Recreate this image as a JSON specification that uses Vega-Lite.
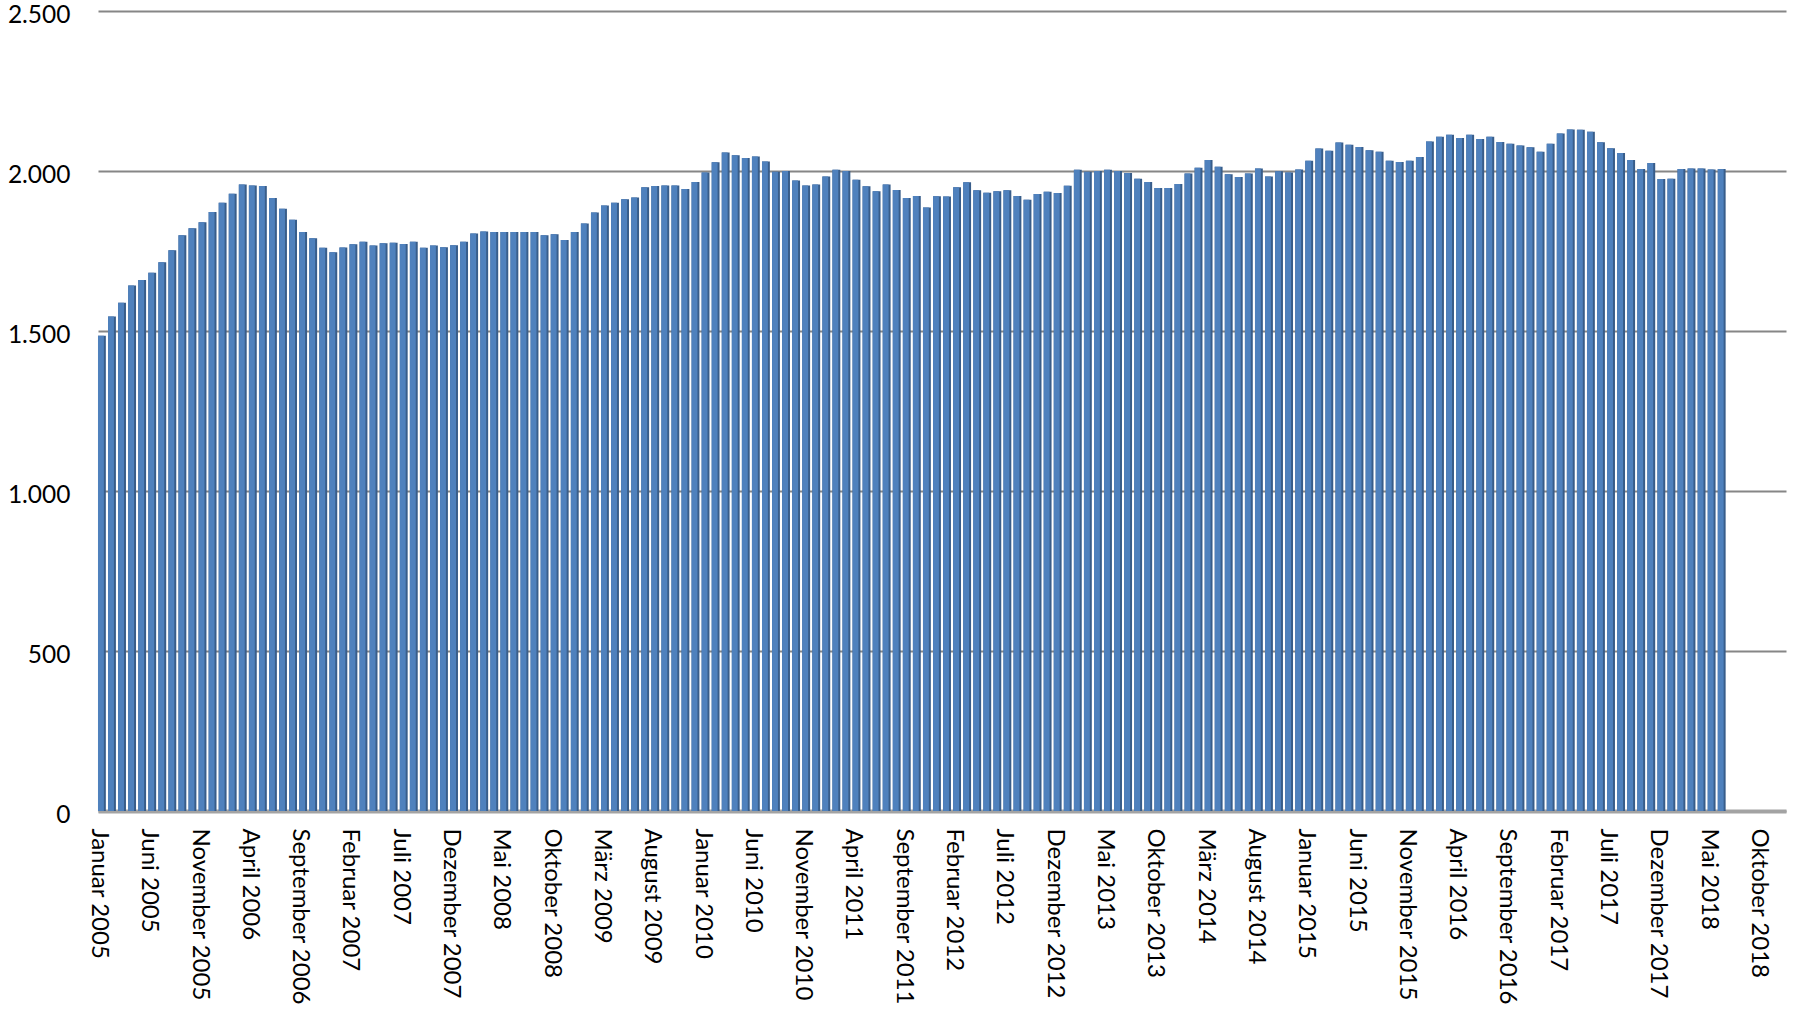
{
  "$schema": "https://vega.github.io/schema/vega-lite/v6.json",
  "width": 1688,
  "height": 800,
  "autosize": "none",
  "padding": {"left": 98, "top": 11, "right": 15, "bottom": 199},
  "background": "white",
  "config": {
    "view": {"stroke": null},
    "font": "Lato",
    "axis": {"labelFont": "Lato", "labelFontSize": 24, "labelColor": "#000000", "labelLimit": 0}
  },
  "data": {
    "values": [
      {"m": "Januar 2005", "v": 1485}, {"m": "Februar 2005", "v": 1545}, {"m": "März 2005", "v": 1588}, {"m": "April 2005", "v": 1642}, {"m": "Mai 2005", "v": 1659}, {"m": "Juni 2005", "v": 1682}, {"m": "Juli 2005", "v": 1715}, {"m": "August 2005", "v": 1752}, {"m": "September 2005", "v": 1799}, {"m": "Oktober 2005", "v": 1821}, {"m": "November 2005", "v": 1840}, {"m": "Dezember 2005", "v": 1872},
      {"m": "Januar 2006", "v": 1901}, {"m": "Februar 2006", "v": 1929}, {"m": "März 2006", "v": 1958}, {"m": "April 2006", "v": 1955}, {"m": "Mai 2006", "v": 1953}, {"m": "Juni 2006", "v": 1916}, {"m": "Juli 2006", "v": 1882}, {"m": "August 2006", "v": 1848}, {"m": "September 2006", "v": 1809}, {"m": "Oktober 2006", "v": 1790}, {"m": "November 2006", "v": 1760}, {"m": "Dezember 2006", "v": 1746},
      {"m": "Januar 2007", "v": 1761}, {"m": "Februar 2007", "v": 1771}, {"m": "März 2007", "v": 1779}, {"m": "April 2007", "v": 1767}, {"m": "Mai 2007", "v": 1774}, {"m": "Juni 2007", "v": 1776}, {"m": "Juli 2007", "v": 1772}, {"m": "August 2007", "v": 1779}, {"m": "September 2007", "v": 1760}, {"m": "Oktober 2007", "v": 1767}, {"m": "November 2007", "v": 1762}, {"m": "Dezember 2007", "v": 1768},
      {"m": "Januar 2008", "v": 1779}, {"m": "Februar 2008", "v": 1805}, {"m": "März 2008", "v": 1811}, {"m": "April 2008", "v": 1809}, {"m": "Mai 2008", "v": 1809}, {"m": "Juni 2008", "v": 1809}, {"m": "Juli 2008", "v": 1809}, {"m": "August 2008", "v": 1809}, {"m": "September 2008", "v": 1799}, {"m": "Oktober 2008", "v": 1802}, {"m": "November 2008", "v": 1784}, {"m": "Dezember 2008", "v": 1809},
      {"m": "Januar 2009", "v": 1836}, {"m": "Februar 2009", "v": 1870}, {"m": "März 2009", "v": 1892}, {"m": "April 2009", "v": 1901}, {"m": "Mai 2009", "v": 1912}, {"m": "Juni 2009", "v": 1917}, {"m": "Juli 2009", "v": 1949}, {"m": "August 2009", "v": 1953}, {"m": "September 2009", "v": 1955}, {"m": "Oktober 2009", "v": 1955}, {"m": "November 2009", "v": 1944}, {"m": "Dezember 2009", "v": 1966},
      {"m": "Januar 2010", "v": 1995}, {"m": "Februar 2010", "v": 2027}, {"m": "März 2010", "v": 2058}, {"m": "April 2010", "v": 2049}, {"m": "Mai 2010", "v": 2041}, {"m": "Juni 2010", "v": 2045}, {"m": "Juli 2010", "v": 2030}, {"m": "August 2010", "v": 1998}, {"m": "September 2010", "v": 2000}, {"m": "Oktober 2010", "v": 1970}, {"m": "November 2010", "v": 1955}, {"m": "Dezember 2010", "v": 1958},
      {"m": "Januar 2011", "v": 1983}, {"m": "Februar 2011", "v": 2004}, {"m": "März 2011", "v": 2000}, {"m": "April 2011", "v": 1973}, {"m": "Mai 2011", "v": 1952}, {"m": "Juni 2011", "v": 1937}, {"m": "Juli 2011", "v": 1958}, {"m": "August 2011", "v": 1941}, {"m": "September 2011", "v": 1916}, {"m": "Oktober 2011", "v": 1922}, {"m": "November 2011", "v": 1886}, {"m": "Dezember 2011", "v": 1921},
      {"m": "Januar 2012", "v": 1920}, {"m": "Februar 2012", "v": 1949}, {"m": "März 2012", "v": 1965}, {"m": "April 2012", "v": 1940}, {"m": "Mai 2012", "v": 1932}, {"m": "Juni 2012", "v": 1937}, {"m": "Juli 2012", "v": 1940}, {"m": "August 2012", "v": 1922}, {"m": "September 2012", "v": 1910}, {"m": "Oktober 2012", "v": 1928}, {"m": "November 2012", "v": 1935}, {"m": "Dezember 2012", "v": 1931},
      {"m": "Januar 2013", "v": 1954}, {"m": "Februar 2013", "v": 2004}, {"m": "März 2013", "v": 1998}, {"m": "April 2013", "v": 2000}, {"m": "Mai 2013", "v": 2004}, {"m": "Juni 2013", "v": 2000}, {"m": "Juli 2013", "v": 1994}, {"m": "August 2013", "v": 1976}, {"m": "September 2013", "v": 1966}, {"m": "Oktober 2013", "v": 1947}, {"m": "November 2013", "v": 1947}, {"m": "Dezember 2013", "v": 1959},
      {"m": "Januar 2014", "v": 1992}, {"m": "Februar 2014", "v": 2010}, {"m": "März 2014", "v": 2034}, {"m": "April 2014", "v": 2013}, {"m": "Mai 2014", "v": 1990}, {"m": "Juni 2014", "v": 1981}, {"m": "Juli 2014", "v": 1992}, {"m": "August 2014", "v": 2008}, {"m": "September 2014", "v": 1983}, {"m": "Oktober 2014", "v": 1999}, {"m": "November 2014", "v": 1995}, {"m": "Dezember 2014", "v": 2005},
      {"m": "Januar 2015", "v": 2032}, {"m": "Februar 2015", "v": 2070}, {"m": "März 2015", "v": 2063}, {"m": "April 2015", "v": 2089}, {"m": "Mai 2015", "v": 2082}, {"m": "Juni 2015", "v": 2075}, {"m": "Juli 2015", "v": 2065}, {"m": "August 2015", "v": 2060}, {"m": "September 2015", "v": 2032}, {"m": "Oktober 2015", "v": 2028}, {"m": "November 2015", "v": 2032}, {"m": "Dezember 2015", "v": 2044},
      {"m": "Januar 2016", "v": 2092}, {"m": "Februar 2016", "v": 2107}, {"m": "März 2016", "v": 2113}, {"m": "April 2016", "v": 2103}, {"m": "Mai 2016", "v": 2113}, {"m": "Juni 2016", "v": 2100}, {"m": "Juli 2016", "v": 2107}, {"m": "August 2016", "v": 2091}, {"m": "September 2016", "v": 2085}, {"m": "Oktober 2016", "v": 2080}, {"m": "November 2016", "v": 2074}, {"m": "Dezember 2016", "v": 2060},
      {"m": "Januar 2017", "v": 2085}, {"m": "Februar 2017", "v": 2117}, {"m": "März 2017", "v": 2130}, {"m": "April 2017", "v": 2129}, {"m": "Mai 2017", "v": 2123}, {"m": "Juni 2017", "v": 2090}, {"m": "Juli 2017", "v": 2071}, {"m": "August 2017", "v": 2056}, {"m": "September 2017", "v": 2034}, {"m": "Oktober 2017", "v": 2006}, {"m": "November 2017", "v": 2025}, {"m": "Dezember 2017", "v": 1975},
      {"m": "Januar 2018", "v": 1976}, {"m": "Februar 2018", "v": 2006}, {"m": "März 2018", "v": 2008}, {"m": "April 2018", "v": 2008}, {"m": "Mai 2018", "v": 2005}, {"m": "Juni 2018", "v": 2006}
    ]
  },
  "encoding": {
    "x": {
      "field": "m",
      "type": "nominal",
      "scale": {
        "domain": [
          "Januar 2005", "Februar 2005", "März 2005", "April 2005", "Mai 2005", "Juni 2005", "Juli 2005", "August 2005", "September 2005", "Oktober 2005", "November 2005", "Dezember 2005",
          "Januar 2006", "Februar 2006", "März 2006", "April 2006", "Mai 2006", "Juni 2006", "Juli 2006", "August 2006", "September 2006", "Oktober 2006", "November 2006", "Dezember 2006",
          "Januar 2007", "Februar 2007", "März 2007", "April 2007", "Mai 2007", "Juni 2007", "Juli 2007", "August 2007", "September 2007", "Oktober 2007", "November 2007", "Dezember 2007",
          "Januar 2008", "Februar 2008", "März 2008", "April 2008", "Mai 2008", "Juni 2008", "Juli 2008", "August 2008", "September 2008", "Oktober 2008", "November 2008", "Dezember 2008",
          "Januar 2009", "Februar 2009", "März 2009", "April 2009", "Mai 2009", "Juni 2009", "Juli 2009", "August 2009", "September 2009", "Oktober 2009", "November 2009", "Dezember 2009",
          "Januar 2010", "Februar 2010", "März 2010", "April 2010", "Mai 2010", "Juni 2010", "Juli 2010", "August 2010", "September 2010", "Oktober 2010", "November 2010", "Dezember 2010",
          "Januar 2011", "Februar 2011", "März 2011", "April 2011", "Mai 2011", "Juni 2011", "Juli 2011", "August 2011", "September 2011", "Oktober 2011", "November 2011", "Dezember 2011",
          "Januar 2012", "Februar 2012", "März 2012", "April 2012", "Mai 2012", "Juni 2012", "Juli 2012", "August 2012", "September 2012", "Oktober 2012", "November 2012", "Dezember 2012",
          "Januar 2013", "Februar 2013", "März 2013", "April 2013", "Mai 2013", "Juni 2013", "Juli 2013", "August 2013", "September 2013", "Oktober 2013", "November 2013", "Dezember 2013",
          "Januar 2014", "Februar 2014", "März 2014", "April 2014", "Mai 2014", "Juni 2014", "Juli 2014", "August 2014", "September 2014", "Oktober 2014", "November 2014", "Dezember 2014",
          "Januar 2015", "Februar 2015", "März 2015", "April 2015", "Mai 2015", "Juni 2015", "Juli 2015", "August 2015", "September 2015", "Oktober 2015", "November 2015", "Dezember 2015",
          "Januar 2016", "Februar 2016", "März 2016", "April 2016", "Mai 2016", "Juni 2016", "Juli 2016", "August 2016", "September 2016", "Oktober 2016", "November 2016", "Dezember 2016",
          "Januar 2017", "Februar 2017", "März 2017", "April 2017", "Mai 2017", "Juni 2017", "Juli 2017", "August 2017", "September 2017", "Oktober 2017", "November 2017", "Dezember 2017",
          "Januar 2018", "Februar 2018", "März 2018", "April 2018", "Mai 2018", "Juni 2018", "Juli 2018", "August 2018", "September 2018", "Oktober 2018"
        ],
        "paddingInner": 0.22,
        "paddingOuter": 1.34,
        "align": 0
      },
      "axis": {
        "title": null,
        "values": ["Januar 2005", "Juni 2005", "November 2005", "April 2006", "September 2006", "Februar 2007", "Juli 2007", "Dezember 2007", "Mai 2008", "Oktober 2008", "März 2009", "August 2009", "Januar 2010", "Juni 2010", "November 2010", "April 2011", "September 2011", "Februar 2012", "Juli 2012", "Dezember 2012", "Mai 2013", "Oktober 2013", "März 2014", "August 2014", "Januar 2015", "Juni 2015", "November 2015", "April 2016", "September 2016", "Februar 2017", "Juli 2017", "Dezember 2017", "Mai 2018", "Oktober 2018"],
        "labelAngle": 90,
        "labelPadding": 17,
        "labelOverlap": false,
        "labelBound": false,
        "labelFlush": false,
        "labelOffset": -3,
        "ticks": false,
        "domain": true,
        "domainColor": "#a3a3a3",
        "domainWidth": 4,
        "grid": false
      }
    },
    "y": {
      "field": "v",
      "type": "quantitative",
      "scale": {"domain": [0, 2500], "nice": false, "zero": true},
      "axis": {
        "title": null,
        "values": [0, 500, 1000, 1500, 2000, 2500],
        "labelExpr": "replace(format(datum.value, ','), ',', '.')",
        "labelFontSize": 24.5,
        "labelPadding": 28,
        "labelOffset": 4,
        "ticks": false,
        "domain": false,
        "grid": true,
        "gridColor": "#868686",
        "gridWidth": 2
      }
    }
  },
  "layer": [
    {"mark": {"type": "bar", "color": "#385d8a"}},
    {"mark": {"type": "bar", "color": "#4f81bd", "width": {"band": 0.75}, "xOffset": -1}}
  ]
}
